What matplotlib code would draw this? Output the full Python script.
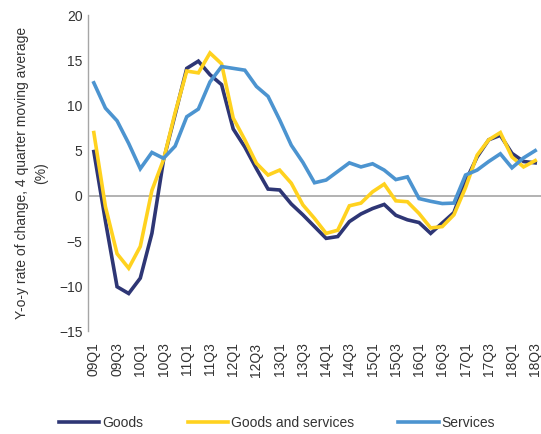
import matplotlib
matplotlib.use("Agg")
import matplotlib.pyplot as plt

plt.rcParams['font.family'] = ['Liberation Sans', 'DejaVu Sans']

quarters = [f"{y:02d}Q{q}" for y in range(9, 19) for q in range(1, 5)][:39]

goods = [4.9, -2.8, -10.05, -10.8, -9.1, -4.15, 3.95, 9.0, 14.1, 14.9,
         13.4, 12.3, 7.4, 5.4, 3.0, 0.75, 0.65, -0.9, -2.1, -3.4,
         -4.7, -4.5, -2.85, -2.0, -1.4, -0.95, -2.15, -2.65, -2.95, -4.15,
         -3.0, -1.85, 1.6, 4.3, 6.2, 6.7, 4.7, 3.8, 3.65]

goods_services = [7.0, -1.2, -6.4, -8.0, -5.6, 0.6, 4.0, 9.2, 13.8, 13.6,
                  15.8, 14.6, 8.6, 6.2, 3.6, 2.3, 2.85, 1.4, -1.0, -2.5,
                  -4.15, -3.8, -1.1, -0.8, 0.45, 1.3, -0.55, -0.65, -1.95, -3.55,
                  -3.4, -2.1, 0.9, 4.5, 6.2, 7.0, 4.3, 3.2, 3.9]

services = [12.5, 9.7, 8.3, 5.8, 3.0, 4.8, 4.15, 5.5, 8.75, 9.6,
            12.6, 14.3, 14.1, 13.9, 12.1, 11.0, 8.4, 5.6, 3.7, 1.45,
            1.75, 2.7, 3.65, 3.2, 3.55, 2.85, 1.8, 2.1, -0.3, -0.6,
            -0.85, -0.8, 2.3, 2.85, 3.8, 4.65, 3.1, 4.2, 5.0]

series_names = ["Goods", "Goods and services", "Services"]
colors = ["#2E3675", "#FFD21F", "#4C94D0"]

fig = plt.figure(figsize=(5.41, 4.34), dpi=100)
ax = fig.add_axes([0.1627, 0.2362, 0.8373, 0.7292])

x = list(range(len(quarters)))
for vals, name, c in zip([goods, goods_services, services], series_names, colors):
    ax.plot(x, vals, color=c, lw=2.6, label=name, solid_joinstyle='miter')

ax.set_xlim(-0.5, len(quarters) - 0.5)
ax.set_ylim(-15, 20)
ax.set_yticks(range(-15, 21, 5))
ax.set_xticks(x[::2])
ax.set_xticklabels(quarters[::2], rotation=90)
ax.axhline(0, color="#A6A6A6", lw=1.2, zorder=0)

for s in ["top", "right", "bottom"]:
    ax.spines[s].set_visible(False)
ax.spines["left"].set_color("#A6A6A6")
ax.spines["left"].set_linewidth(1.0)

ax.tick_params(axis="y", length=0, pad=4, labelsize=10, labelcolor="#333333")
ax.tick_params(axis="x", length=0, pad=8, labelsize=10, labelcolor="#333333")

ax.set_ylabel("Y-o-y rate of change, 4 quarter moving average\n(%)",
              fontsize=10, color="#333333", labelpad=8, linespacing=1.45)

fig.legend(loc="center", bbox_to_anchor=(0.512, 0.025), ncol=3, frameon=False,
           fontsize=10, handlelength=2.9, handletextpad=0.2, columnspacing=3.2,
           labelcolor="#333333")

fig.savefig("out.png", dpi=100)
